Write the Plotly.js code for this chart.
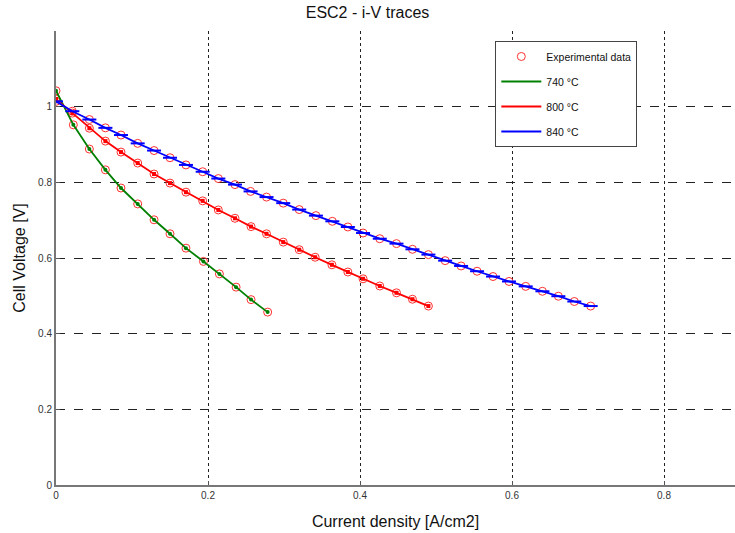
<!DOCTYPE html>
<html>
<head>
<meta charset="utf-8">
<script src="https://cdn.plot.ly/plotly-3.0.1.min.js"></script>
<style>html,body{margin:0;padding:0;background:#fff;}#chart{width:735px;height:533px;}</style>
</head>
<body>
<div id="chart"></div>
<script>
// 740 °C
var x740 = [0, 0.0228, 0.0439, 0.065, 0.0855, 0.1075, 0.129, 0.150, 0.171, 0.194, 0.215, 0.237, 0.2566, 0.2785];
var v740 = [1.042, 0.952, 0.888, 0.833, 0.785, 0.743, 0.701, 0.664, 0.626, 0.591, 0.558, 0.523, 0.490, 0.457];
// 800 °C
var x800 = [0, 0.0215, 0.0439, 0.065, 0.0855, 0.1075, 0.129, 0.150, 0.171, 0.193, 0.2136, 0.2355, 0.2566, 0.277, 0.299, 0.320, 0.341, 0.363, 0.384, 0.404, 0.426, 0.448, 0.469, 0.490];
var v800 = [1.020, 0.983, 0.943, 0.909, 0.880, 0.851, 0.822, 0.798, 0.774, 0.751, 0.727, 0.705, 0.683, 0.664, 0.642, 0.622, 0.602, 0.582, 0.563, 0.545, 0.526, 0.508, 0.491, 0.473];
// 840 °C
var x840 = [0, 0.0215, 0.0439, 0.065, 0.0855, 0.1075, 0.129, 0.150, 0.171, 0.193, 0.2136, 0.2355, 0.256, 0.277, 0.299, 0.320, 0.342, 0.3636, 0.384, 0.404, 0.426, 0.448, 0.469, 0.490, 0.512, 0.533, 0.554, 0.575, 0.596, 0.618, 0.640, 0.661, 0.682, 0.7035];
var v840 = [1.014, 0.988, 0.966, 0.944, 0.925, 0.903, 0.884, 0.865, 0.846, 0.828, 0.810, 0.794, 0.776, 0.761, 0.745, 0.728, 0.712, 0.697, 0.682, 0.666, 0.651, 0.638, 0.623, 0.609, 0.593, 0.579, 0.565, 0.551, 0.538, 0.525, 0.512, 0.499, 0.485, 0.473];

var seriesNames = ['740 °C', '800 °C', '840 °C'];
var seriesColors = ['#008000', '#ff0000', '#0000ff'];
var tickVals = [0, 0.2, 0.4, 0.6, 0.8];
var yTickVals = [0, 0.2, 0.4, 0.6, 0.8, 1];

var expX = x740.concat(x800, x840);
var expY = v740.concat(v800, v840);

var xs = [x740, x800, x840];
var ys = [v740, v800, v840];
var markerStyles = [
  {symbol: 'circle', size: 4, color: seriesColors[0]},
  {symbol: 'square', size: 4, color: seriesColors[1]},
  {symbol: 'line-ew', size: 10, color: seriesColors[2], line: {width: 2, color: seriesColors[2]}}
];

var traces = [
  {x: expX, y: expY, mode: 'markers', name: 'Experimental data', type: 'scatter',
   marker: {symbol: 'circle-open', size: 8, color: '#ff3030', line: {width: 1, color: '#ff3030'}},
   legendgroup: 'a', legendrank: 1}
];
var groups = ['b', 'c', 'd'];
for (var i = 0; i < 3; i++) {
  traces.push({x: xs[i], y: ys[i], mode: 'lines', name: seriesNames[i], type: 'scatter',
    line: {color: seriesColors[i], width: 1.8}, legendgroup: groups[i], legendrank: i + 2});
  traces.push({x: xs[i], y: ys[i], mode: 'markers', name: seriesNames[i], type: 'scatter',
    marker: markerStyles[i], showlegend: false, legendgroup: groups[i]});
}

var layout = {
  width: 735, height: 533,
  margin: {l: 56, r: 0, t: 31, b: 48},
  paper_bgcolor: '#fff', plot_bgcolor: '#fff',
  font: {family: 'Liberation Sans, Arial, sans-serif', size: 10, color: '#222'},
  title: {text: 'ESC2 - i-V traces', font: {size: 16, color: '#111'}, x: 0.5, xanchor: 'center', y: 0.988, yanchor: 'top'},
  xaxis: {
    range: [0, 0.8934], tickvals: tickVals, ticktext: tickVals.map(function(v){return String(v);}),
    showgrid: true, gridcolor: '#222', griddash: 'dot', gridwidth: 1,
    zeroline: false, showline: true, linecolor: '#777', linewidth: 2,
    ticks: 'inside', ticklen: 4, tickcolor: '#555',
    tickfont: {size: 10, color: '#333'},
    title: {text: 'Current density [A/cm2]', font: {size: 16, color: '#111'}, standoff: 16}
  },
  yaxis: {
    range: [0, 1.2], tickvals: yTickVals, ticktext: yTickVals.map(function(v){return String(v);}),
    showgrid: true, gridcolor: '#222', griddash: 'dash', gridwidth: 1,
    zeroline: false, showline: true, linecolor: '#777', linewidth: 2,
    ticks: 'inside', ticklen: 4, tickcolor: '#555',
    tickfont: {size: 10, color: '#333'},
    title: {text: 'Cell Voltage [V]', font: {size: 16, color: '#111'}, standoff: 8}
  },
  showlegend: true,
  legend: {
    x: 0.647, y: 0.978, xanchor: 'left', yanchor: 'top',
    bgcolor: '#fff', bordercolor: '#444', borderwidth: 1,
    font: {size: 10.5, color: '#111'}, tracegroupgap: 6, itemwidth: 40,
    traceorder: 'grouped'
  }
};

Plotly.newPlot('chart', traces, layout, {displayModeBar: false, staticPlot: true});
</script>
</body>
</html>
